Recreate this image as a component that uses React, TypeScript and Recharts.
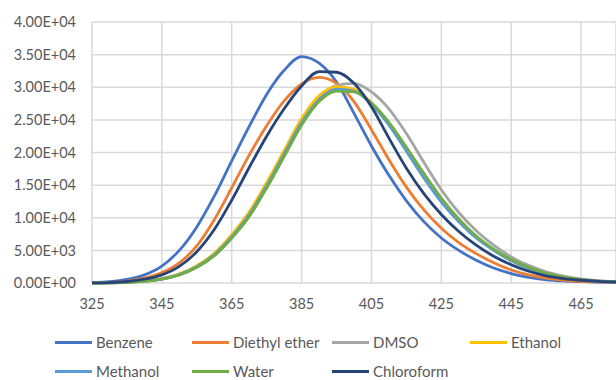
import { CartesianGrid, Line, LineChart, XAxis, YAxis } from "recharts"

const wavelengths = [
    325, 330, 335, 340, 345, 350, 355, 360, 365, 370, 375, 380, 385, 390, 395, 400,
    405, 410, 415, 420, 425, 430, 435, 440, 445, 450, 455, 460, 465, 470, 475,
]

const benzene = [
    50, 200, 550, 1250, 2600, 5000, 8600, 13300, 18700, 24000, 28900, 32600, 34700, 33700, 30800, 26000,
    21000, 16500, 12600, 9400, 6900, 5000, 3500, 2300, 1450, 850, 500, 310, 200, 120, 80,
]
const diethylEther = [
    20, 100, 300, 750, 1600, 3100, 5700, 9700, 14600, 19600, 24100, 27900, 30500, 31500, 30600, 27800,
    23500, 18900, 14700, 11200, 8400, 6200, 4500, 3100, 2000, 1250, 750, 450, 270, 160, 100,
]
const dmso = [
    0, 30, 100, 260, 600, 1250, 2400, 4200, 6900, 10200, 14600, 19400, 24300, 28200, 30300, 30600,
    29300, 26700, 22900, 18500, 14300, 10800, 8000, 5800, 4000, 2700, 1700, 1050, 620, 360, 220,
]
const ethanol = [
    0, 35, 120, 300, 680, 1400, 2650, 4550, 7400, 10900, 15400, 20300, 25200, 28700, 30100, 29700,
    27600, 24400, 20400, 16300, 12600, 9500, 7000, 5100, 3450, 2250, 1380, 820, 470, 280, 170,
]
const methanol = [
    0, 30, 110, 280, 640, 1320, 2500, 4350, 7100, 10500, 14900, 19800, 24600, 28100, 29700, 29400,
    27400, 24200, 20200, 16100, 12400, 9400, 6900, 5000, 3400, 2200, 1350, 800, 460, 270, 160,
]
const water = [
    0, 30, 100, 260, 600, 1250, 2400, 4200, 6900, 10200, 14600, 19400, 24200, 27800, 29400, 29300,
    27600, 24600, 20800, 16800, 13000, 9800, 7200, 5200, 3600, 2400, 1500, 900, 520, 300, 180,
]
const chloroform = [
    10, 70, 230, 580, 1250, 2550, 4800, 8200, 12700, 17700, 22500, 26700, 30200, 32400, 32300, 30600,
    27000, 22200, 17600, 13700, 10500, 7900, 5800, 4100, 2800, 1800, 1100, 680, 420, 250, 150,
]

const seriesNames = ["Benzene", "Diethyl ether", "DMSO", "Ethanol", "Methanol", "Water", "Chloroform"]
const seriesValues = [benzene, diethylEther, dmso, ethanol, methanol, water, chloroform]
const seriesColors = ["#4472C4", "#ED7D31", "#A5A5A5", "#FFC000", "#5B9BD5", "#70AD47", "#264478"]

const xTicks = [325, 345, 365, 385, 405, 425, 445, 465]
const yTicks = [0, 5000, 10000, 15000, 20000, 25000, 30000, 35000, 40000]

const data = wavelengths.map((wl, i) => {
    const row: Record<string, number> = { wl }
    seriesNames.forEach((name, s) => (row[name] = seriesValues[s][i]))
    return row
})

// 0 -> 0.00E+00, 35000 -> 3.50E+04
const sci = (v: number) => {
    const [m, e] = v.toExponential(2).split("e")
    const sign = e[0] === "-" ? "-" : "+"
    const digits = e.replace(/[+-]/, "").padStart(2, "0")
    return `${m}E${sign}${digits}`
}

const font = "Lato, 'Open Sans', sans-serif"
const textColor = "#595959"
const gridColor = "#D9D9D9"

const legendCols = [55, 192, 332, 470]
const legendRows = [342, 371]

function LegendBox() {
    return (
        <>
            {seriesNames.map((name, i) => {
                const left = legendCols[i % 4]
                const top = legendRows[Math.floor(i / 4)]
                return (
                    <div
                        key={name}
                        style={{ position: "absolute", left, top: top - 8, height: 16, display: "flex", alignItems: "center" }}
                    >
                        <div style={{ width: 37, height: 3, background: seriesColors[i], marginRight: 4 }} />
                        <span style={{ fontSize: 15, lineHeight: "16px", color: textColor, fontFamily: font, whiteSpace: "nowrap" }}>
                            {name}
                        </span>
                    </div>
                )
            })}
        </>
    )
}

export default function App() {
    return (
        <div style={{ position: "absolute", left: 0, top: 0, width: 616, height: 380, background: "#fff", overflow: "hidden" }}>
            <LineChart width={616} height={380} data={data} margin={{ top: 22, right: 0, bottom: 80, left: 0 }}>
                <CartesianGrid stroke={gridColor} strokeWidth={1.5} />
                <XAxis
                    dataKey="wl"
                    type="number"
                    domain={[325, 475]}
                    ticks={xTicks}
                    allowDataOverflow
                    axisLine={false}
                    tickLine={false}
                    tickSize={0}
                    tickMargin={16}
                    height={17}
                    tick={{ fill: textColor, fontSize: 14.5, fontFamily: font }}
                />
                <YAxis
                    type="number"
                    domain={[0, 40000]}
                    ticks={yTicks}
                    width={92}
                    axisLine={false}
                    tickLine={false}
                    tickSize={0}
                    tickMargin={16}
                    tickFormatter={sci}
                    tick={{ fill: textColor, fontSize: 14.5, fontFamily: font }}
                />
                {seriesNames.map((name, i) => (
                    <Line
                        key={name}
                        dataKey={name}
                        type="monotone"
                        stroke={seriesColors[i]}
                        strokeWidth={2.8}
                        dot={false}
                        isAnimationActive={false}
                    />
                ))}
            </LineChart>
            <LegendBox />
        </div>
    )
}
